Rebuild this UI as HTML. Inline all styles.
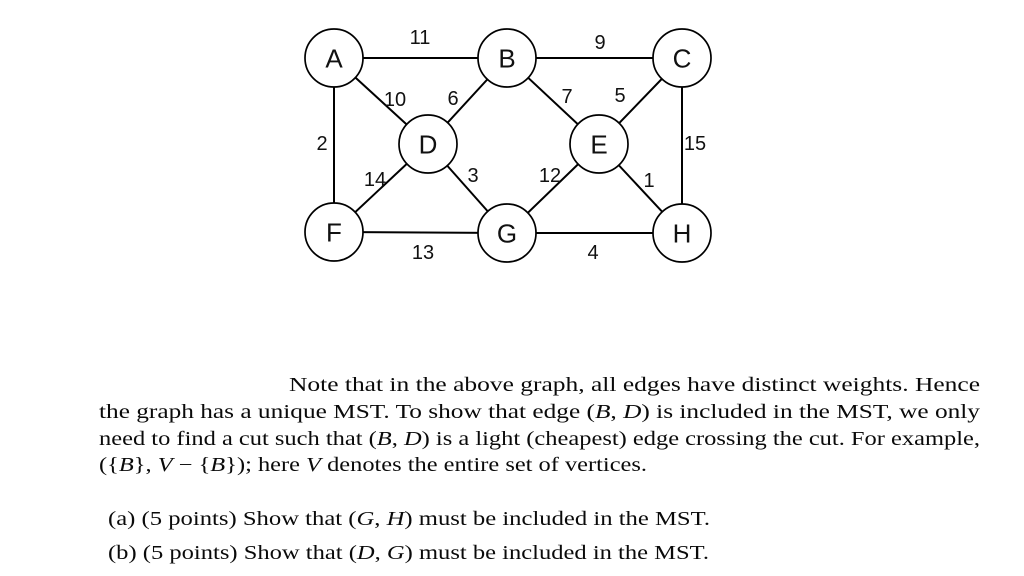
<!DOCTYPE html>
<html>
<head>
<meta charset="utf-8">
<style>
  html, body { margin: 0; padding: 0; background: #fff; }
  svg { display: block; }
</style>
</head>
<body>
<svg width="1024" height="576" viewBox="0 0 1024 576" xmlns="http://www.w3.org/2000/svg">
  <rect width="1024" height="576" fill="#fff"/>
  <!-- edges -->
  <g stroke="#000" stroke-width="2" fill="none">
    <line x1="334" y1="58" x2="507" y2="58"/>
    <line x1="507" y1="58" x2="682" y2="58"/>
    <line x1="334" y1="58" x2="334" y2="232"/>
    <line x1="682" y1="58" x2="682" y2="233"/>
    <line x1="334" y1="232" x2="507" y2="233"/>
    <line x1="507" y1="233" x2="682" y2="233"/>
    <line x1="334" y1="58" x2="428" y2="144"/>
    <line x1="507" y1="58" x2="428" y2="144"/>
    <line x1="428" y1="144" x2="334" y2="232"/>
    <line x1="428" y1="144" x2="507" y2="233"/>
    <line x1="507" y1="58" x2="599" y2="144"/>
    <line x1="682" y1="58" x2="599" y2="144"/>
    <line x1="599" y1="144" x2="507" y2="233"/>
    <line x1="599" y1="144" x2="682" y2="233"/>
  </g>
  <!-- nodes -->
  <g stroke="#000" stroke-width="1.7" fill="#fff">
    <circle cx="334" cy="58" r="29"/>
    <circle cx="507" cy="58" r="29"/>
    <circle cx="682" cy="58" r="29"/>
    <circle cx="428" cy="144" r="29"/>
    <circle cx="599" cy="144" r="29"/>
    <circle cx="334" cy="232" r="29"/>
    <circle cx="507" cy="233" r="29"/>
    <circle cx="682" cy="233" r="29"/>
  </g>
  <g font-family="Liberation Sans, Arial, sans-serif" font-size="26" fill="#111" text-anchor="middle">
    <text x="334" y="67.5">A</text>
    <text x="507" y="67.5">B</text>
    <text x="682" y="67.5">C</text>
    <text x="428" y="153.5">D</text>
    <text x="599" y="153.5">E</text>
    <text x="334" y="241.5">F</text>
    <text x="507" y="242.5">G</text>
    <text x="682" y="242.5">H</text>
  </g>
  <!-- edge labels -->
  <g font-family="Liberation Sans, Arial, sans-serif" font-size="20" fill="#111" text-anchor="middle">
    <text x="420" y="44">11</text>
    <text x="600" y="49">9</text>
    <text x="395" y="106">10</text>
    <text x="453" y="105">6</text>
    <text x="567" y="103">7</text>
    <text x="620" y="102">5</text>
    <text x="322" y="150">2</text>
    <text x="695" y="150">15</text>
    <text x="375" y="186">14</text>
    <text x="473" y="182">3</text>
    <text x="550" y="182">12</text>
    <text x="649" y="187">1</text>
    <text x="423" y="259">13</text>
    <text x="593" y="259">4</text>
  </g>
  <!-- paragraph -->
  <g font-family="Liberation Serif, Times New Roman, serif" font-size="19.5" fill="#0a0a0a">
    <text x="289" y="391" textLength="691" lengthAdjust="spacingAndGlyphs">Note that in the above graph, all edges have distinct weights.  Hence</text>
    <text x="99" y="418" textLength="881" lengthAdjust="spacingAndGlyphs">the graph has a unique MST. To show that edge (<tspan font-style="italic">B</tspan>, <tspan font-style="italic">D</tspan>) is included in the MST, we only</text>
    <text x="99" y="445" textLength="881" lengthAdjust="spacingAndGlyphs">need to find a cut such that (<tspan font-style="italic">B</tspan>, <tspan font-style="italic">D</tspan>) is a light (cheapest) edge crossing the cut. For example,</text>
    <text x="99" y="471" textLength="548" lengthAdjust="spacingAndGlyphs">({<tspan font-style="italic">B</tspan>}, <tspan font-style="italic">V</tspan> − {<tspan font-style="italic">B</tspan>}); here <tspan font-style="italic">V</tspan> denotes the entire set of vertices.</text>
    <text x="108" y="525" textLength="602" lengthAdjust="spacingAndGlyphs">(a)  (5 points) Show that (<tspan font-style="italic">G</tspan>, <tspan font-style="italic">H</tspan>) must be included in the MST.</text>
    <text x="108" y="559" textLength="601" lengthAdjust="spacingAndGlyphs">(b)  (5 points) Show that (<tspan font-style="italic">D</tspan>, <tspan font-style="italic">G</tspan>) must be included in the MST.</text>
  </g>
</svg>
</body>
</html>
